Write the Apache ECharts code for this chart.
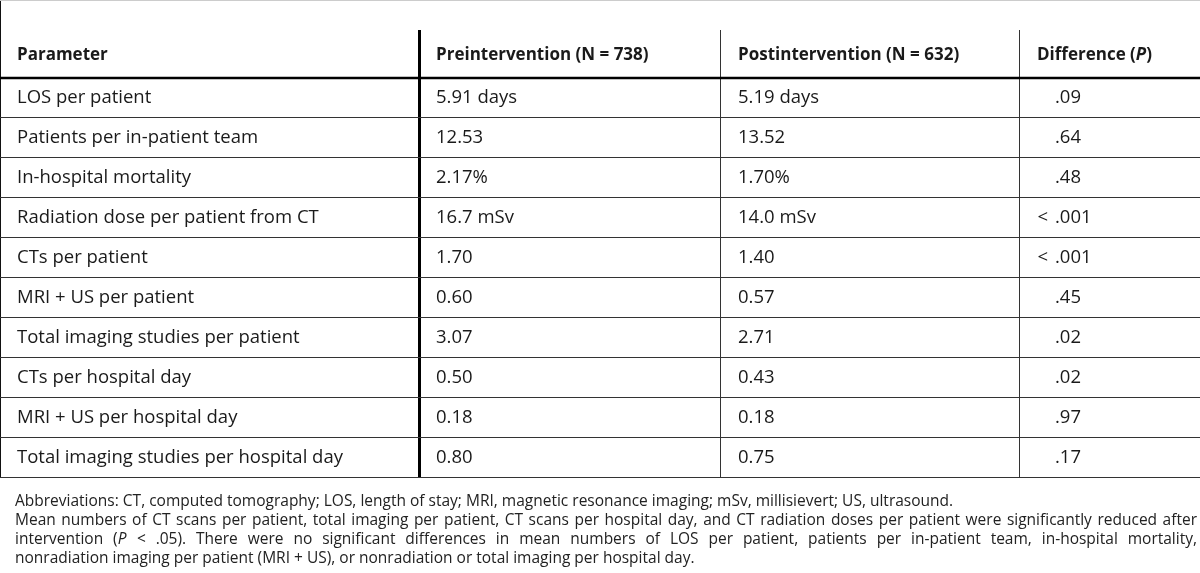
<!DOCTYPE html>
<html>
<head>
<meta charset="utf-8">
<script src="https://cdn.jsdelivr.net/npm/echarts@6/dist/echarts.min.js"></script>
<style>
  html, body { margin: 0; padding: 0; background: #fff; }
  #main { width: 1200px; height: 573px; }
</style>
</head>
<body>
<div id="main"></div>
<script>
// table content
const headers = ['Parameter', 'Preintervention (N = 738)', 'Postintervention (N = 632)', 'Difference ({i|P})']
const parameters = [
    'LOS per patient',
    'Patients per in-patient team',
    'In-hospital mortality',
    'Radiation dose per patient from CT',
    'CTs per patient',
    'MRI + US per patient',
    'Total imaging studies per patient',
    'CTs per hospital day',
    'MRI + US per hospital day',
    'Total imaging studies per hospital day'
]
const preValues = ['5.91 days', '12.53', '2.17%', '16.7 mSv', '1.70', '0.60', '3.07', '0.50', '0.18', '0.80']
const postValues = ['5.19 days', '13.52', '1.70%', '14.0 mSv', '1.40', '0.57', '2.71', '0.43', '0.18', '0.75']
const pValues = ['.09', '.64', '.48', '< .001', '< .001', '.45', '.02', '.02', '.97', '.17']
const notes = [
    'Abbreviations: CT, computed tomography; LOS, length of stay; MRI, magnetic resonance imaging; mSv, millisievert; US, ultrasound.',
    'Mean numbers of CT scans per patient, total imaging per patient, CT scans per hospital day, and CT radiation doses per patient were significantly reduced after',
    'intervention ({i|P} < .05). There were no significant differences in mean numbers of LOS per patient, patients per in-patient team, in-hospital mortality,',
    'nonradiation imaging per patient (MRI + US), or nonradiation or total imaging per hospital day.'
]
const justified = [false, true, true, false]

// layout
const W = 1200
const colEdges = [0, 420, 721, 1020, W]
const cellPad = [17, 16, 17]
const pDecimalX = 1055
const FONT = '"Open Sans", "Noto Sans", sans-serif'
const cellSize = 18.5
const headSize = 17
const noteSize = 15.5
const ink = '#1a1a1a'
const gridTop = 78
const rowH = 40
const headerTop = 30

var chart = echarts.init(document.getElementById('main'), null, {renderer: 'canvas'})

var measureCtx = document.createElement('canvas').getContext('2d')
function textWidth(t, size, weight) {
    measureCtx.font = (weight || 'normal') + ' ' + size + 'px ' + FONT
    return measureCtx.measureText(t.replace(/\{i\|(.*?)\}/g, '$1')).width
}

var graphics = []

// header text
headers.forEach(function (h, c) {
    graphics.push({
        type: 'text',
        x: colEdges[c] + (c === 3 ? 17 : cellPad[c]),
        y: 55,
        style: {
            text: h, font: 'bold ' + headSize + 'px ' + FONT, fill: ink, verticalAlign: 'middle',
            rich: {i: {fontStyle: 'italic', fontWeight: 'bold', fontSize: headSize, fontFamily: FONT, fill: ink}}
        }
    })
})

// vertical rules
var tableBottom = gridTop + rowH * parameters.length
graphics.push({type: 'line', shape: {x1: 0.5, y1: 0, x2: 0.5, y2: tableBottom}, style: {stroke: '#111', lineWidth: 1}})
graphics.push({type: 'line', shape: {x1: 0, y1: 0.5, x2: W, y2: 0.5}, style: {stroke: '#ccc', lineWidth: 1}})
for (var c = 1; c < colEdges.length - 1; c++) {
    graphics.push({
        type: 'line',
        shape: {x1: colEdges[c] - 0.5, y1: headerTop, x2: colEdges[c] - 0.5, y2: tableBottom},
        style: {stroke: c === 1 ? '#000' : '#333', lineWidth: c === 1 ? 3 : 1}
    })
}
// header rule
graphics.push({type: 'line', shape: {x1: 0, y1: gridTop, x2: W, y2: gridTop}, style: {stroke: '#000', lineWidth: 2.5}})

// footnotes
var noteLeft = 15, noteRight = 1197
notes.forEach(function (line, i) {
    var y = 502 + i * 19
    var rich = {i: {fontStyle: 'italic', fontSize: noteSize, fontFamily: FONT, fill: '#222'}}
    if (!justified[i]) {
        graphics.push({type: 'text', x: noteLeft, y: y,
            style: {text: line, font: noteSize + 'px ' + FONT, fill: '#222', verticalAlign: 'middle', rich: rich}})
        return
    }
    var words = line.split(' ')
    var total = 0
    words.forEach(function (w) { total += textWidth(w, noteSize) })
    var gap = (noteRight - noteLeft - total) / (words.length - 1)
    var x = noteLeft
    words.forEach(function (w) {
        graphics.push({type: 'text', x: x, y: y,
            style: {text: w, font: noteSize + 'px ' + FONT, fill: '#222', verticalAlign: 'middle', rich: rich}})
        x += textWidth(w, noteSize) + gap
    })
})

var option = {
    animation: false,
    grid: {left: 0, right: 0, top: gridTop, height: rowH * parameters.length},
    xAxis: {type: 'value', min: 0, max: W, show: false},
    yAxis: {type: 'category', data: parameters, inverse: true, show: false},
    series: [{
        type: 'custom',
        data: parameters.map(function (p, i) { return [0, i] }),
        encode: {x: 0, y: 1},
        renderItem: function (params, api) {
            var r = api.value(1)
            var yc = api.coord([0, r])[1]
            var h = api.size([0, 1])[1]
            var xAt = function (v) { return api.coord([v, r])[0] }
            var children = []
            var cells = [parameters[r], preValues[r], postValues[r]]
            cells.forEach(function (t, c) {
                children.push({
                    type: 'text',
                    style: {text: t, x: xAt(colEdges[c]) + cellPad[c], y: yc, verticalAlign: 'middle',
                        font: cellSize + 'px ' + FONT, fill: ink}
                })
            })
            // difference column, aligned on the decimal point
            var pv = pValues[r]
            var dot = pv.indexOf('.')
            var lead = pv.slice(0, dot).trim()
            children.push({
                type: 'text',
                style: {text: pv.slice(dot), x: xAt(pDecimalX), y: yc, verticalAlign: 'middle',
                    font: cellSize + 'px ' + FONT, fill: ink}
            })
            if (lead) {
                children.push({
                    type: 'text',
                    style: {text: lead, x: xAt(pDecimalX) - 7, y: yc, verticalAlign: 'middle', align: 'right',
                        font: cellSize + 'px ' + FONT, fill: ink}
                })
            }
            var yb = Math.round(yc + h / 2) - 0.5
            children.push({
                type: 'line',
                shape: {x1: xAt(0), y1: yb, x2: xAt(W), y2: yb},
                style: {stroke: '#333', lineWidth: 1}
            })
            return {type: 'group', children: children}
        }
    }],
    graphic: graphics
}

chart.setOption(option)
</script>
</body>
</html>
